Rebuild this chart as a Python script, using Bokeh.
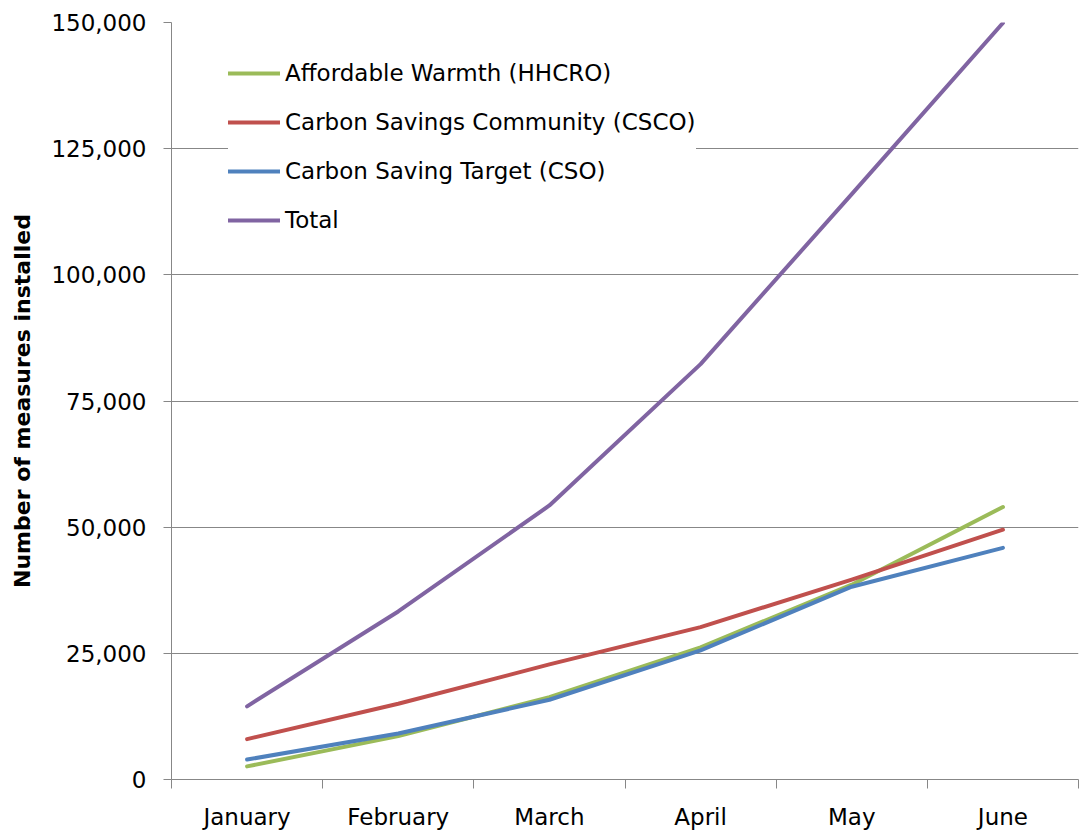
from bokeh.plotting import figure
from bokeh.models import (Range1d, LinearAxis, FixedTicker, NumeralTickFormatter)
from bokeh.embed import file_html
from bokeh.resources import INLINE

# ---- data ----
months = ["January", "February", "March", "April", "May", "June"]
affordable_warmth = [2600, 8600, 16300, 26200, 38600, 54000]
carbon_community = [8000, 15000, 22800, 30200, 39600, 49500]
carbon_target = [3950, 9100, 15800, 25600, 38200, 45900]
total = [14500, 33300, 54300, 82300, 116000, 149900]

series_names = ["Affordable Warmth (HHCRO)", "Carbon Savings Community (CSCO)",
                "Carbon Saving Target (CSO)", "Total"]
series_values = [affordable_warmth, carbon_community, carbon_target, total]
series_colors = ["#9BBB59", "#C0504D", "#4F81BD", "#8064A2"]

y_ticks = [0, 25000, 50000, 75000, 100000, 125000, 150000]
y_label = "Number of measures installed"

FONT = "DejaVu Sans"
GRID = "#878787"

# category slots: each month occupies one unit, centred on i + 0.5
centres = [i + 0.5 for i in range(len(months))]
boundaries = list(range(len(months) + 1))

p = figure(width=1080, height=832,
           x_range=Range1d(0, len(months)),
           y_range=Range1d(0, 150000),
           output_backend="svg", toolbar_location=None,
           min_border_left=171, min_border_right=2,
           min_border_top=22, min_border_bottom=53)
p.outline_line_color = None
p.xgrid.visible = False
p.ygrid.grid_line_color = GRID
p.ygrid.grid_line_width = 1
p.background_fill_color = "white"
p.border_fill_color = "white"

for name, vals, col in zip(series_names, series_values, series_colors):
    p.line(centres, vals, line_color=col, line_width=4, line_join="round",
           line_cap="round", legend_label=name)

# y axis
ya = p.yaxis[0]
ya.ticker = FixedTicker(ticks=y_ticks)
ya.formatter = NumeralTickFormatter(format="0,0")
ya.major_tick_out = 8
ya.major_tick_in = 0
ya.minor_tick_line_color = None
ya.axis_line_color = GRID
ya.major_tick_line_color = GRID
ya.major_label_text_font = FONT
ya.major_label_text_font_size = "23px"
ya.major_label_text_color = "black"
ya.major_label_standoff = 17
ya.axis_label = y_label
ya.axis_label_text_font = FONT
ya.axis_label_text_font_style = "bold"
ya.axis_label_text_font_size = "22px"
ya.axis_label_text_color = "black"
ya.axis_label_standoff = 13

# x axis 1: tick marks at category boundaries, no labels
xa = p.xaxis[0]
xa.ticker = FixedTicker(ticks=boundaries)
xa.major_label_text_font_size = "0px"
xa.major_label_text_color = None
xa.major_label_standoff = 0
xa.major_tick_out = 9
xa.major_tick_in = 0
xa.minor_tick_line_color = None
xa.axis_line_color = GRID
xa.major_tick_line_color = GRID

# x axis 2: month names at category centres
label_axis = LinearAxis(ticker=FixedTicker(ticks=centres),
                        major_label_overrides={c: m for c, m in zip(centres, months)},
                        major_tick_line_color=None, axis_line_color=None,
                        minor_tick_line_color=None,
                        major_tick_out=0, major_tick_in=0,
                        major_label_text_font=FONT,
                        major_label_text_font_size="23px",
                        major_label_text_color="black",
                        major_label_standoff=15)
p.add_layout(label_axis, "below")

# legend
lg = p.legend[0]
lg.location = (57, 544)
lg.padding = 20
lg.margin = 0
lg.spacing = 19
lg.glyph_width = 52
lg.glyph_height = 30
lg.label_standoff = 5
lg.label_text_font = FONT
lg.label_text_font_size = "23px"
lg.label_text_color = "black"
lg.border_line_color = None
lg.background_fill_color = "white"
lg.background_fill_alpha = 1.0

open("out.html", "w").write(file_html(p, INLINE))
